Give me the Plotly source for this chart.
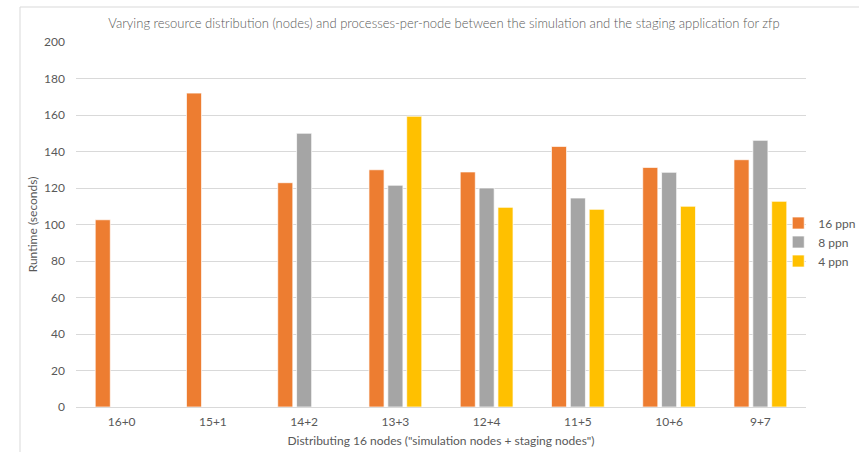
import plotly.graph_objects as go

# Runtime (seconds) for each node split, per processes-per-node setting
categories = ["16+0", "15+1", "14+2", "13+3", "12+4", "11+5", "10+6", "9+7"]
ppn16 = [102.6, 172.0, 122.9, 130.0, 128.8, 142.8, 131.3, 135.5]
ppn8 = [None, None, 150.0, 121.5, 120.0, 114.5, 128.6, 146.1]
ppn4 = [None, None, None, 159.3, 109.4, 108.3, 110.0, 112.7]

series = [
    ("16 ppn", ppn16, "#ED7D31"),
    ("8 ppn", ppn8, "#A5A5A5"),
    ("4 ppn", ppn4, "#FFC000"),
]

FONT = "Lato"
TEXT = "#595959"
GRID = "#D9D9D9"

fig = go.Figure()
for name, vals, color in series:
    fig.add_trace(go.Bar(
        x=categories, y=vals, name=name,
        marker=dict(color=color, line=dict(color="rgba(255,255,255,0.7)", width=1)),
    ))

fig.update_layout(
    width=859, height=452,
    margin=dict(l=76, r=53, t=42, b=45, autoexpand=False),
    paper_bgcolor="white", plot_bgcolor="white",
    font=dict(family=FONT, size=12, color=TEXT),
    barmode="group", bargap=0.38, bargroupgap=0.2,
    title=dict(
        text="Varying resource distribution (nodes) and processes-per-node between the simulation and the staging application for zfp",
        font=dict(family=FONT, size=13, color=TEXT, weight=300),
        x=444 / 859, xref="container", xanchor="center",
        y=1 - 23 / 452, yref="container", yanchor="middle",
    ),
    legend=dict(
        x=0.962, y=0.452, xanchor="left", yanchor="middle",
        bgcolor="rgba(0,0,0,0)",
        font=dict(family=FONT, size=12, color=TEXT),
        itemwidth=30, tracegroupgap=0,
    ),
    shapes=[dict(
        type="rect", xref="paper", yref="paper",
        xsizemode="pixel", ysizemode="pixel",
        xanchor=0, yanchor=1,
        x0=-56, x1=900, y0=35, y1=-500,
        line=dict(color=GRID, width=1), fillcolor="rgba(0,0,0,0)", layer="below",
    )],
)

fig.update_xaxes(
    showgrid=False, showline=True, linecolor=GRID, linewidth=1,
    ticks="", ticklabelstandoff=4, tickfont=dict(size=12, color=TEXT),
    title=dict(text='Distributing 16 nodes ("simulation nodes + staging nodes")',
               font=dict(size=12, color=TEXT), standoff=8),
)
fig.update_yaxes(
    range=[0, 200], dtick=20, showgrid=True, gridcolor=GRID, gridwidth=1,
    zeroline=False, showline=False, ticks="", ticklabelstandoff=10,
    tickfont=dict(size=12, color=TEXT),
    title=dict(text="Runtime (seconds)", font=dict(size=12, color=TEXT), standoff=3),
)

fig.write_html("out.html")
